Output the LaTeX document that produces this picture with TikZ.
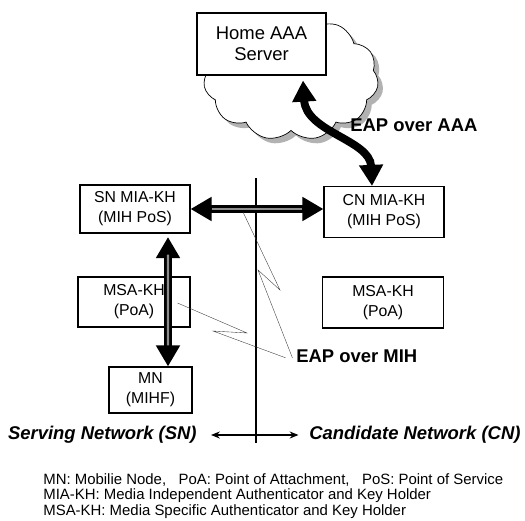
\documentclass[tikz,border=0pt]{standalone}
\usepackage{fontspec}
\setmainfont{Liberation Sans}
\usetikzlibrary{arrows.meta}
\usetikzlibrary{shapes.symbols}

\begin{document}
\begin{tikzpicture}[x=0.02cm,y=-0.02cm,
    box/.style={draw,fill=white,semithick,align=center,inner sep=0pt,
      font=\fontsize{9}{11.3}\selectfont},
    fatarrow/.style={line width=4.5pt,
      {Triangle[width=13pt,length=12pt]}-{Triangle[width=13pt,length=12pt]}},
    fatcore/.style={line width=1.4pt,black!45,shorten <=12pt,shorten >=12pt},
    zap/.style={very thin,black!80},
    eaplabel/.style={font=\fontsize{10.5}{12}\selectfont\bfseries,inner sep=0pt},
    netlabel/.style={font=\fontsize{10.5}{12}\selectfont\bfseries\itshape,inner sep=0pt},
    puff/.style={cloud,cloud puffs=11,cloud puff arc=110,
      minimum width=3.5cm,minimum height=2.5cm,inner sep=0pt}]

        \useasboundingbox (0,0) rectangle (525,521);

        %------------------
        % Cloud and AAA server
        %------------------

        % shadow, then the cloud itself
        \node[puff,fill=gray!60] (cloudsh) at (296,83) {};
        \node[puff,fill=white,draw,thin] (cloud) at (291,78) {};

        \node[box,minimum width=2.58cm,minimum height=1.24cm,
          font=\fontsize{10.5}{12}\selectfont] (home) at (261.5,44) {Home AAA\\Server};

        %------------------
        % Boxes
        %------------------

        \node[box,minimum width=2.2cm,minimum height=0.96cm] (sn) at (135,209) {SN MIA-KH\\(MIH PoS)};
        \node[box,minimum width=2.4cm,minimum height=1.02cm] (cn) at (384,212) {CN MIA-KH\\(MIH PoS)};
        \node[box,minimum width=2.24cm,minimum height=1cm] (msasn) at (134,302) {MSA-KH\\(PoA)};
        \node[box,minimum width=2.42cm,minimum height=1.02cm] (msacn) at (383,302.5) {MSA-KH\\(PoA)};
        \node[box,minimum width=1.66cm,minimum height=0.92cm] (mn) at (150.5,390) {MN\\(MIHF)};

        %------------------
        % Border between networks
        %------------------

        \coordinate (bordertop) at (256,178);
        \coordinate (borderbot) at (256,443);
        \draw[line width=1.1pt] (bordertop) -- (borderbot);

        %------------------
        % EAP arrows
        %------------------

        % SN <-> CN
        \draw[fatarrow] (sn.east) -- (sn.east -| cn.west);
        \draw[fatcore] (sn.east) -- (sn.east -| cn.west);

        % SN <-> MN
        \draw[fatarrow,shorten <=2pt] ([xshift=0.66cm]sn.south) -- ([xshift=0.35cm]mn.north);
        \draw[fatcore] ([xshift=0.66cm]sn.south) -- ([xshift=0.35cm]mn.north);

        % CN <-> home server
        \draw[fatarrow] ([xshift=-0.24cm]cn.north)
          .. controls (370,140) and (306,132) .. ([xshift=0.83cm,yshift=-0.1cm]home.south);

        %------------------
        % Labels
        %------------------

        \node[eaplabel,anchor=west] (aaalabel) at (350,125) {EAP over AAA};
        \node[eaplabel,anchor=west] (mihlabel) at (296,356) {EAP over MIH};

        % zigzag pointers
        \draw[zap] ([xshift=-0.26cm,yshift=-0.02cm]msasn.east) -- (247,333) -- (213,331)
          -- ([xshift=-6pt,yshift=-1pt]mihlabel.west);
        \draw[zap] (243,212) -- (280,290) -- (258,270)
          -- ([xshift=-2pt,yshift=-5pt]mihlabel.north west);

        % networks
        \node[netlabel,anchor=east] (snnet) at (197,435) {Serving Network (SN)};
        \node[netlabel,anchor=west] (cnnet) at (309,435) {Candidate Network (CN)};
        \draw[{Stealth[length=5pt,width=4pt]}-{Stealth[length=5pt,width=4pt]},semithick,
          shorten <=8pt,shorten >=6pt] (snnet.east) -- (cnnet.west);

        % legend
        \node[anchor=north west,align=left,inner sep=0pt,
          font=\fontsize{8.5}{8.9}\selectfont] (legend) at (43,473)
          {MN: Mobilie Node,\ \ \ PoA: Point of Attachment,\ \ \ PoS: Point of Service\\
           MIA-KH: Media Independent Authenticator and Key Holder\\
           MSA-KH: Media Specific Authenticator and Key Holder};
      \end{tikzpicture}
\end{document}
